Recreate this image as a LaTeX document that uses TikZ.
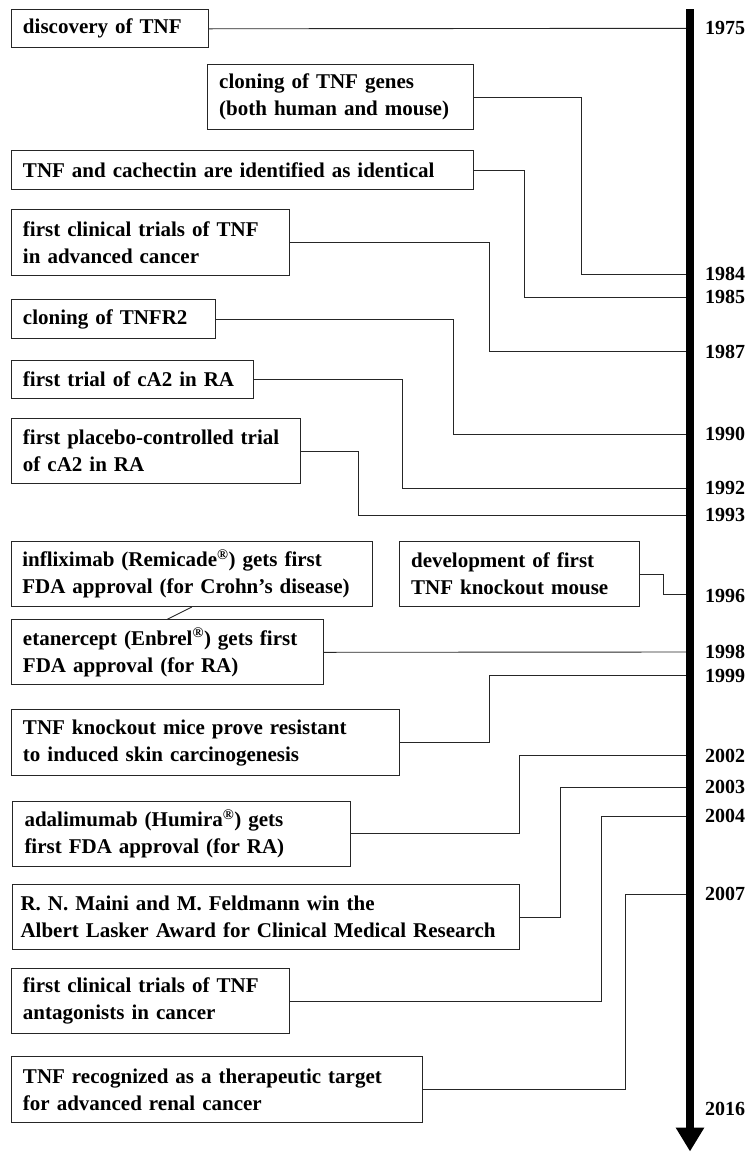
\documentclass[tikz,border=0pt]{standalone}
\usepackage{fontspec}
\setmainfont{Liberation Serif}
\usepackage{tikz}
\usetikzlibrary{arrows.meta,positioning,calc}

\begin{document}
\begin{tikzpicture}[
    x=1pt, y=-1pt,
    event/.style={rectangle, draw=black!85, line width=1pt, anchor=north west, align=left, inner xsep=12pt, inner ysep=2pt, font=\bfseries\fontsize{21}{27}\selectfont},
    year/.style={anchor=west, inner sep=0pt, font=\bfseries\fontsize{20}{24}\selectfont},
    link/.style={draw=black!85, line width=0.9pt},
    timeline/.style={line width=8pt, -{Triangle[width=27pt,length=24pt]}}
]
\useasboundingbox (0,0) rectangle (747,1152);

% Events, top to bottom
\node[event, text width=173pt, minimum height=38pt] (discovery) at (10.5,9.3) {discovery of TNF};

\node[event, text width=242pt, minimum height=65.3pt] (cloning) at (206.7,64) {cloning of TNF genes\\(both human and mouse)};

\node[event, text width=438pt, minimum height=38.4pt] (cachectin) at (10.5,150.3) {TNF and cachectin are identified as identical};

\node[event, text width=254.5pt, minimum height=65.7pt] (trials) at (10.5,209) {first clinical trials of TNF\\in advanced cancer};

\node[event, text width=180.8pt, minimum height=38.4pt] (tnfr) at (10.5,299.3) {cloning of TNFR2};

\node[event, text width=218.6pt, minimum height=38.3pt] (firstca) at (10.5,360) {first trial of cA2 in RA};

\node[event, text width=265.5pt, minimum height=65.6pt] (placebo) at (10.5,417.7) {first placebo-controlled trial\\of cA2 in RA};

\node[event, text width=339pt, inner xsep=11.3pt, minimum height=65.3pt] (infliximab) at (10.5,540.7) {infliximab (Remicade\textsuperscript{\textregistered}) gets first\\FDA approval (for Crohn's disease)};

\node[event, text width=216pt, minimum height=65pt] (knockout) at (398.6,541) {development of first\\TNF knockout mouse};

\node[event, text width=288.5pt, minimum height=65pt] (etanercept) at (10.5,619.3) {etanercept (Enbrel\textsuperscript{\textregistered}) gets first\\FDA approval (for RA)};

\node[event, text width=364pt, minimum height=65.7pt] (mice) at (10.5,709.3) {TNF knockout mice prove resistant\\to induced skin carcinogenesis};

\node[event, text width=313.8pt, minimum height=65.3pt] (adalimumab) at (12,800.7) {adalimumab (Humira\textsuperscript{\textregistered}) gets\\first FDA approval (for RA)};

\node[event, text width=491pt, inner xsep=8pt, minimum height=65.6pt] (lasker) at (12,883.7) {R. N. Maini and M. Feldmann win the\\Albert Lasker Award for Clinical Medical Research};

\node[event, text width=254.5pt, minimum height=65.6pt] (antagonists) at (10.5,967.7) {first clinical trials of TNF\\antagonists in cancer};

\node[event, text width=387pt, minimum height=65.7pt] (renal) at (10.5,1056) {TNF recognized as a therapeutic target\\for advanced renal cancer};

% Years on the time axis
\coordinate (t1975) at (690,28.3);
\coordinate (t1984) at (690,274);
\coordinate (t1985) at (690,297);
\coordinate (t1987) at (690,351.7);
\coordinate (t1990) at (690,434.3);
\coordinate (t1992) at (690,488.3);
\coordinate (t1993) at (690,515.3);
\coordinate (t1996) at (690,594);
\coordinate (t1998) at (690,652);
\coordinate (t1999) at (690,675.7);
\coordinate (t2002) at (690,755.7);
\coordinate (t2003) at (690,787.3);
\coordinate (t2004) at (690,816);
\coordinate (t2007) at (690,894);

\node[year] (y1975) at (705,28.3) {1975};
\node[year] (y1984) at (705,274) {1984};
\node[year] (y1985) at (705,297) {1985};
\node[year] (y1987) at (705,351.7) {1987};
\node[year] (y1990) at (705,434.3) {1990};
\node[year] (y1992) at (705,488.3) {1992};
\node[year] (y1993) at (705,515.3) {1993};
\node[year] (y1996) at (705,596) {1996};
\node[year] (y1998) at (705,652) {1998};
\node[year] (y1999) at (705,675.7) {1999};
\node[year] (y2002) at (705,755.7) {2002};
\node[year] (y2003) at (705,787.3) {2003};
\node[year] (y2004) at (705,816) {2004};
\node[year] (y2007) at (705,894) {2007};
\node[year] (y2016) at (705,1109.3) {2016};

% Connectors from events to years
\draw[link] (discovery.east) -- (t1975);
\draw[link] (cloning.east) -| (581.8,274) -- (t1984);
\draw[link] (cachectin.east) -| (524.9,297) -- (t1985);
\draw[link] (trials.east) -| (489.5,351.7) -- (t1987);
\draw[link] (tnfr.east) -| (453.1,434.3) -- (t1990);
\draw[link] (firstca.east) -| (402.4,488.3) -- (t1992);
\draw[link] (placebo.east) -| (358.4,515.3) -- (t1993);
\draw[link] (infliximab.south) -- (etanercept.north);
\draw[link] (knockout.east) -| (663.5,594) -- (t1996);
\draw[link] (etanercept.east) -- (t1998);
\draw[link] (mice.east) -| (489,675.7) -- (t1999);
\draw[link] (adalimumab.east) -| (519.6,755.7) -- (t2002);
\draw[link] (lasker.east) -| (560.8,787.3) -- (t2003);
\draw[link] (antagonists.east) -| (601,816) -- (t2004);
\draw[link] (renal.east) -| (625.8,894) -- (t2007);

% Time axis
\draw[timeline] (690,9.3) -- (690,1151.5);

\end{tikzpicture}
\end{document}
